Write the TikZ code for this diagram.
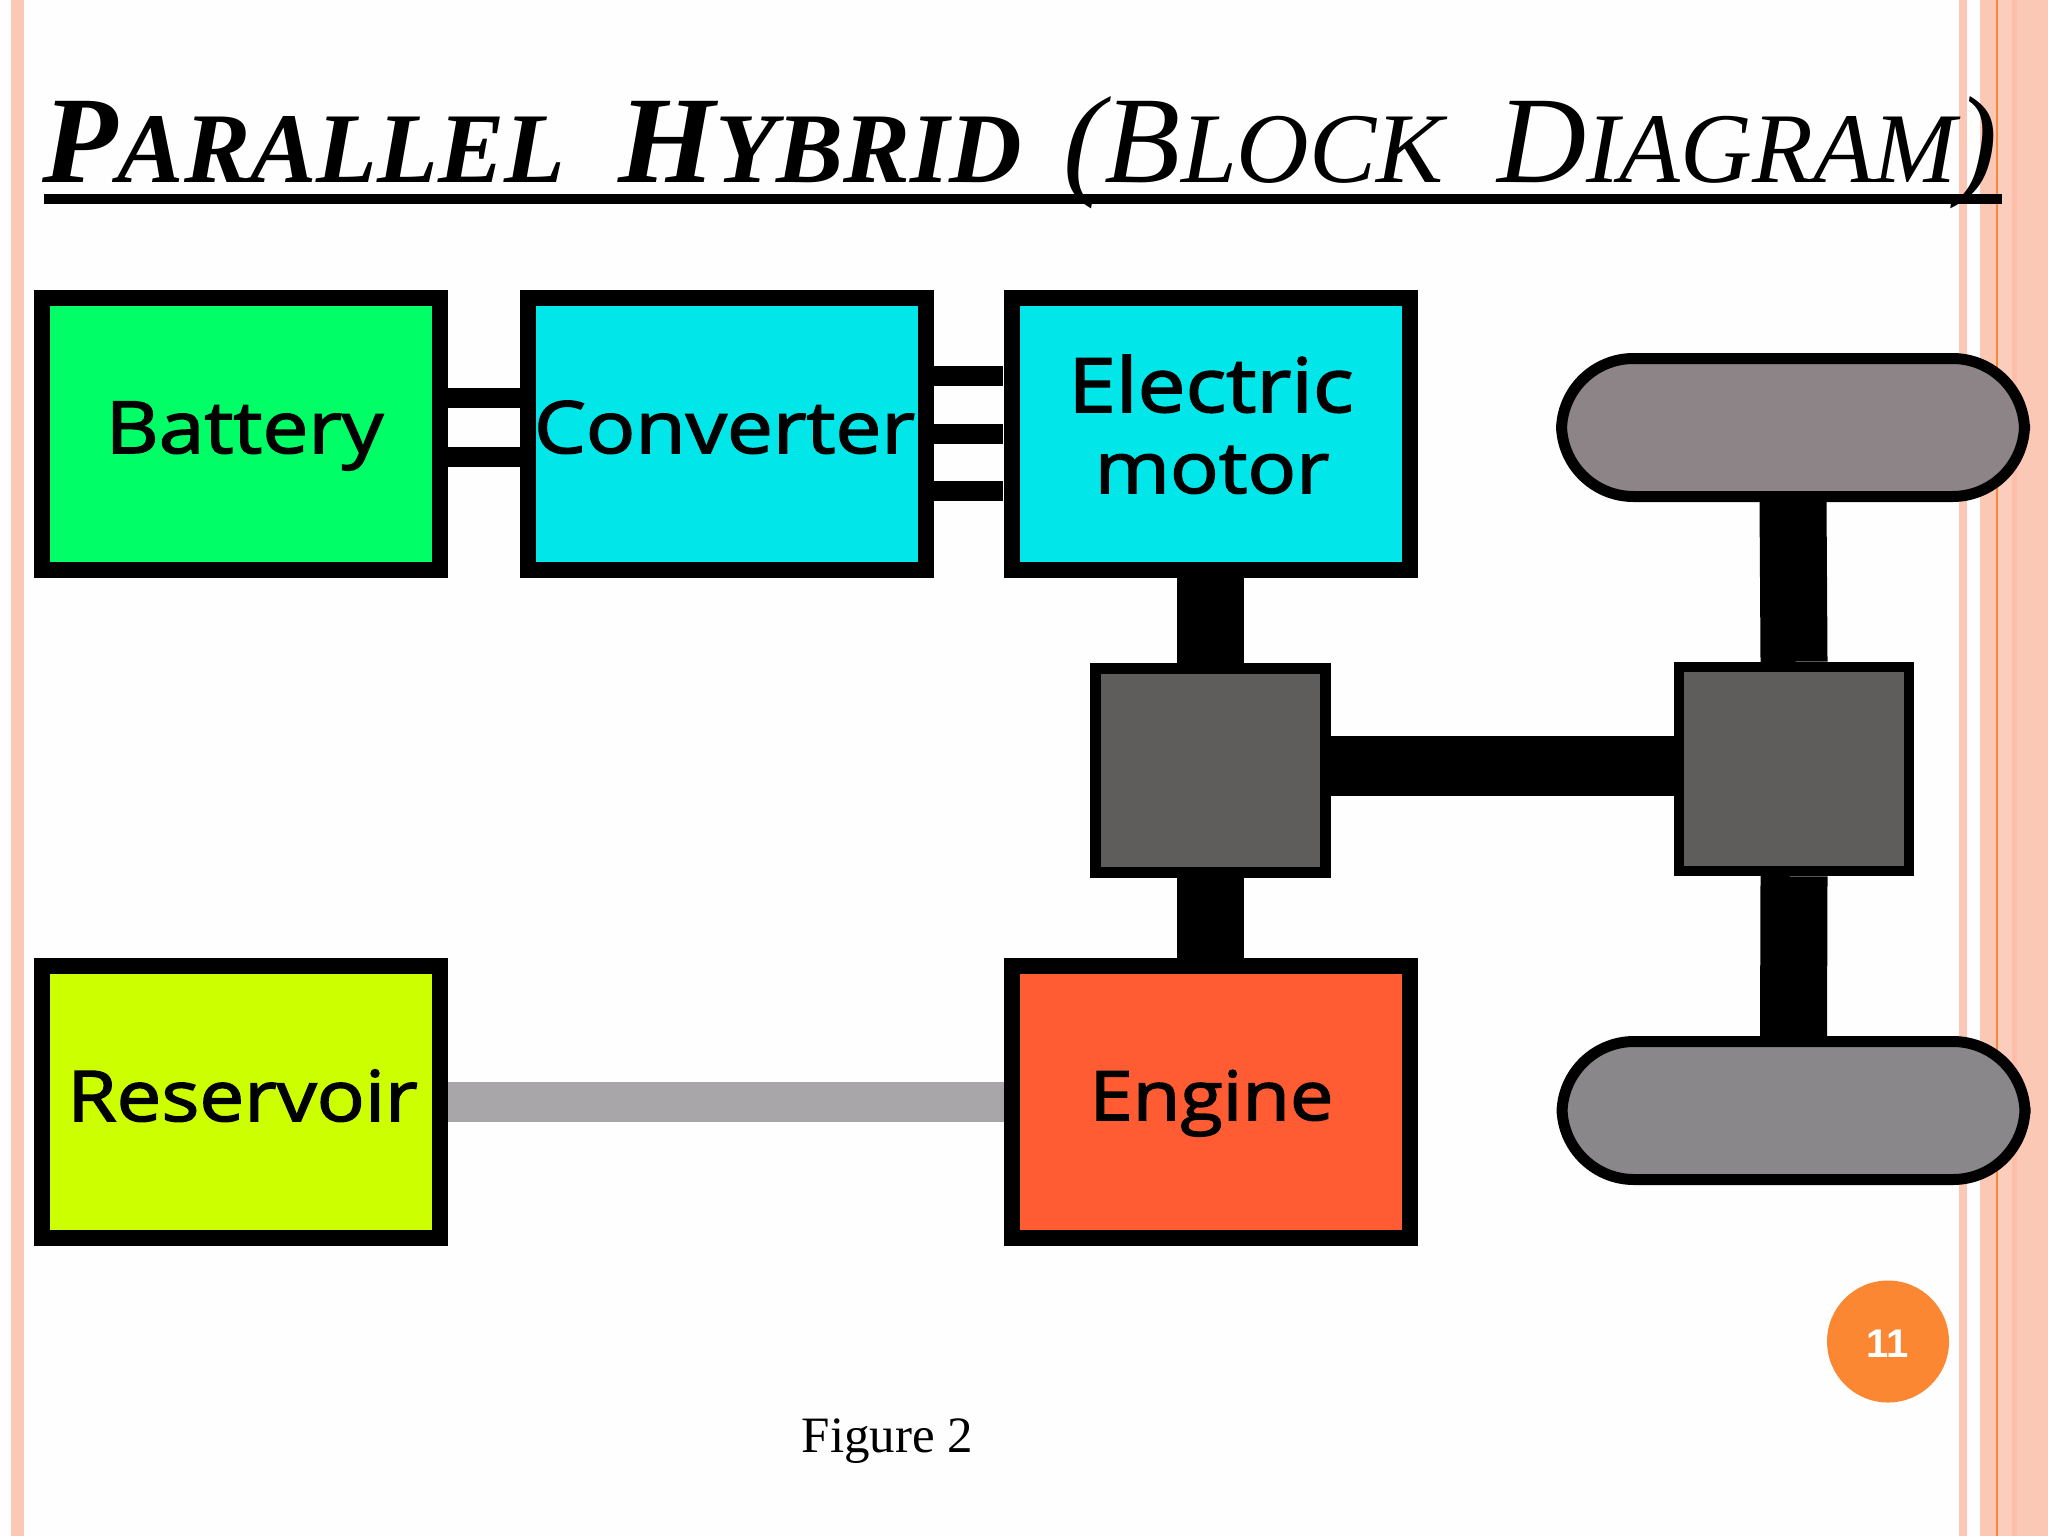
\documentclass[tikz,border=0pt]{standalone}
\usepackage{fontspec}
\setmainfont{Liberation Serif}
\newfontfamily\labelfont[FakeStretch=1.14,FakeBold=2.2]{Open Sans}
\newfontfamily\numfont{Liberation Sans}
\newcommand{\capbig}[1]{{\fontsize{62}{62}\selectfont #1}}
\newcommand{\capsmall}[1]{{\fontsize{50}{50}\selectfont #1}}
\tikzset{
  x=0.5pt,y=-0.5pt,
  blockbox/.style={draw=black,line width=8pt,minimum width=199pt,minimum height=136pt,inner sep=0pt},
  gearbox/.style={draw=black,line width=5.25pt,fill=gearfill,minimum width=115pt,minimum height=102pt,inner sep=0pt},
  wheelbox/.style={draw=black,line width=5.5pt,rounded corners=36pt,minimum width=231.5pt,minimum height=69pt,inner sep=0pt},
  thinshaft/.style={line width=10pt,draw=black},
  fatshaft/.style={line width=33.5pt,draw=black},
  fuelline/.style={line width=20pt,draw=fuelgray},
  titletext/.style={inner sep=0pt,anchor=base west,text=black},
  blocklabel/.style={inner sep=0pt,anchor=base,text=black},
}
\definecolor{stripe}{HTML}{FCC8B6}
\definecolor{stripelight}{HTML}{FCCDBC}
\definecolor{stripedark}{HTML}{FDBFA9}
\definecolor{stripeline}{HTML}{F58A3C}
\definecolor{orangecirc}{HTML}{FB8733}
\definecolor{pagebg}{HTML}{FEFEFE}
\definecolor{gearfill}{HTML}{5E5D5C}
\definecolor{fuelgray}{HTML}{A8A6A8}
\definecolor{batgreen}{HTML}{00FF66}
\definecolor{convcyan}{HTML}{00E6E9}
\definecolor{resgreen}{HTML}{CCFF00}
\definecolor{engred}{HTML}{FF5C33}
\definecolor{wheeltop}{HTML}{8C8487}
\definecolor{wheelbot}{HTML}{89878A}
\begin{document}
\begin{tikzpicture}
\useasboundingbox (0,0) rectangle (2048,1536);
\fill[pagebg] (0,0) rectangle (2048,1536);
% side bands
\fill[stripe] (11,0) rectangle (24,1536);
\fill[stripe] (1959,0) rectangle (1967,1536);
\fill[stripe] (1980,0) rectangle (2048,1536);
\fill[stripelight] (1998,0) rectangle (2012,1536);
\fill[stripedark] (2012,0) rectangle (2017,1536);
\fill[stripeline] (1996,0) rectangle (1998,1536);
% blocks
\node[blockbox,fill=batgreen] (battery) at (241,434) {};
\node[blockbox,fill=convcyan] (converter) at (726.5,434) {};
\node[blockbox,fill=convcyan] (motor) at (1210.5,434) {};
\node[blockbox,fill=resgreen] (reservoir) at (241,1101.5) {};
\node[blockbox,fill=engred] (engine) at (1210.5,1101.5) {};
\node[gearbox] (gear1) at (1210.5,770.5) {};
\node[gearbox] (gear2) at (1794,769) {};
\node[wheelbox,fill=wheeltop] (wheel1) at (1793,427.5) {};
\node[wheelbox,fill=wheelbot] (wheel2) at (1793.5,1110.5) {};
% labels
\node[blocklabel,font=\labelfont\fontsize{36}{40}\selectfont] (tbattery) at (244.5,453) {Battery};
\node[blocklabel,font=\labelfont\fontsize{36}{40}\selectfont] (tconverter) at (724.5,453) {Converter};
\node[blocklabel,font=\labelfont\fontsize{37.5}{40}\selectfont] (telectric) at (1211,412) {Electric};
\node[blocklabel,font=\labelfont\fontsize{35.5}{40}\selectfont] (tmotor) at (1212,493) {motor};
\node[blocklabel,font=\labelfont\fontsize{35}{40}\selectfont] (treservoir) at (242.5,1121) {Reservoir};
\node[blocklabel,font=\labelfont\fontsize{34}{40}\selectfont] (tengine) at (1211.5,1120) {Engine};
% connectors
\coordinate (b1) at (448,398); \coordinate (c1) at (520,398);
\coordinate (b2) at (448,457); \coordinate (c2) at (520,457);
\coordinate (d1) at (933,376); \coordinate (e1) at (1003,376);
\coordinate (d2) at (933,434); \coordinate (e2) at (1003,434);
\coordinate (d3) at (933,491); \coordinate (e3) at (1003,491);
\draw[thinshaft] (b1) -- (c1);
\draw[thinshaft] (b2) -- (c2);
\draw[thinshaft] (d1) -- (e1);
\draw[thinshaft] (d2) -- (e2);
\draw[thinshaft] (d3) -- (e3);
\draw[fatshaft] (motor.south) -- (gear1.north);
\draw[fatshaft] (gear1.south) -- (engine.north);
\draw[fatshaft] (wheel1.south) -- (gear2.north);
\draw[fatshaft] (gear2.south) -- (wheel2.north);
\draw[line width=30pt,draw=black] ([yshift=2.25pt]gear1.east) -- ([yshift=1.5pt]gear2.west);
\draw[fuelline] (reservoir.east) -- (engine.west);
% title
\draw[line width=5pt] (44,199) -- (2002,199);
\node[titletext] (t1) at (42,182) {\scalebox{0.995}[1]{\bfseries\itshape\capbig{P}\capsmall{ARALLEL}}};
\node[titletext] (t2) at (618,182) {\scalebox{1.005}[1]{\bfseries\itshape\capbig{H}\capsmall{YBRID}}};
\node[titletext] (t3) at (1063,182) {\scalebox{1.005}[1]{\itshape\capbig{(B}\capsmall{LOCK}}};
\node[titletext] (t4) at (1497,182) {\scalebox{0.995}[1]{\itshape\capbig{D}\capsmall{IAGRAM}\capbig{)}}};
% page number
\fill[orangecirc] (1888,1341.5) circle[radius=61];
\node[inner sep=0pt,text=white,font=\numfont\bfseries\fontsize{20}{20}\selectfont] (pagenum) at (1888,1344) {11};
\node[inner sep=0pt,anchor=base,font=\fontsize{25.5}{26}\selectfont] (caption) at (887.5,1452.5) {Figure 2};
\end{tikzpicture}
\end{document}
